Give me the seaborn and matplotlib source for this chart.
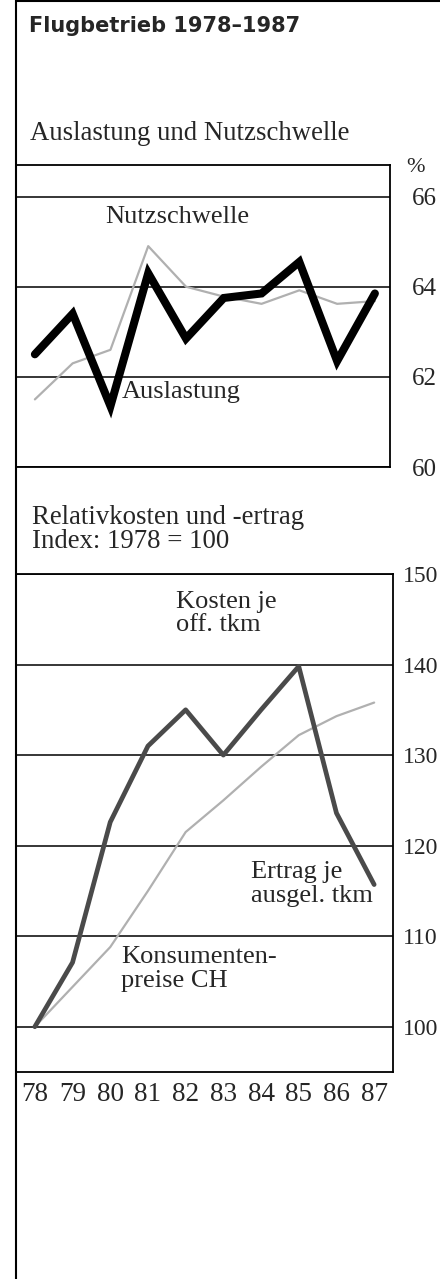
import matplotlib
matplotlib.use("Agg")
import matplotlib.pyplot as plt
import seaborn as sns
import pandas as pd
from matplotlib.lines import Line2D

# data
years = [78, 79, 80, 81, 82, 83, 84, 85, 86, 87]
auslastung = [62.5, 63.4, 61.35, 64.3, 62.85, 63.75, 63.85, 64.55, 62.35, 63.85]
nutzschwelle = [61.5, 62.3, 62.6, 64.9, 64.0, 63.78, 63.62, 63.92, 63.62, 63.68]
kosten = [100, 107.1, 122.6, 131.0, 135.0, 130.0, 135.0, 139.8, 123.6, 115.7]
konsumentenpreise = [100, 104.4, 108.8, 115.0, 121.5, 125.0, 128.7, 132.2, 134.3, 135.8]

top_ticks = [60, 62, 64, 66]
bottom_ticks = [100, 110, 120, 130, 140, 150]

df_top = pd.DataFrame({"Jahr": years, "Auslastung": auslastung, "Nutzschwelle": nutzschwelle})
df_bot = pd.DataFrame({"Jahr": years, "Kosten": kosten, "Konsumentenpreise": konsumentenpreise})

sns.set_style("white")
plt.rcParams["font.family"] = ["Liberation Serif", "DejaVu Serif"]

W, H = 440, 1279
fig = plt.figure(figsize=(W / 100, H / 100), dpi=100)
fig.patch.set_facecolor("white")


def px(x, y):
    return x / W, 1 - y / H


def box(left, top, right, bottom):
    return [left / W, 1 - bottom / H, (right - left) / W, (bottom - top) / H]


# -------------------
# Auslastung und Nutzschwelle
# -------------------
ax1 = fig.add_axes(box(16, 165, 390, 467))
sns.lineplot(data=df_top, x="Jahr", y="Nutzschwelle", ax=ax1, color="#b0b0b0", lw=1.6)
sns.lineplot(data=df_top, x="Jahr", y="Auslastung", ax=ax1, color="black", lw=5.8,
             solid_joinstyle="miter")
ax1.set_xlim(77.5, 87.4)
ax1.set_ylim(60, 66.7)
ax1.set_yticks(top_ticks)
ax1.set_xticks([])
ax1.yaxis.tick_right()
ax1.tick_params(axis="y", length=0, pad=15.5, labelsize=18)
ax1.grid(axis="y", color="black", lw=1.1)
ax1.set_xlabel("")
ax1.set_ylabel("")
for s in ax1.spines.values():
    s.set_color("black")
    s.set_linewidth(1.3)

# -------------------
# Relativkosten und -ertrag
# -------------------
ax2 = fig.add_axes(box(16, 574, 393, 1072))
sns.lineplot(data=df_bot, x="Jahr", y="Konsumentenpreise", ax=ax2, color="#b0b0b0", lw=1.6)
sns.lineplot(data=df_bot, x="Jahr", y="Kosten", ax=ax2, color="#4a4a4a", lw=3.4)
ax2.set_xlim(77.5, 87.5)
ax2.set_ylim(95, 150)
ax2.set_yticks(bottom_ticks)
ax2.set_xticks(years)
ax2.set_xticklabels([str(y) for y in years])
ax2.yaxis.tick_right()
ax2.tick_params(axis="y", length=0, pad=7, labelsize=17)
ax2.tick_params(axis="x", length=0, pad=7, labelsize=19.5)
ax2.grid(axis="y", color="black", lw=1.1)
ax2.set_xlabel("")
ax2.set_ylabel("")
for s in ax2.spines.values():
    s.set_color("black")
    s.set_linewidth(1.3)

# frame lines
fig.add_artist(Line2D([16 / W, 16 / W], [0, 1], color="black", lw=1.5))
fig.add_artist(Line2D([16 / W, 1], [1 - 1 / H, 1 - 1 / H], color="black", lw=1.5))

# texts
fig.text(*px(29, 26), "Flugbetrieb 1978–1987", family="DejaVu Sans", weight="heavy",
         fontsize=15, va="center", ha="left")
fig.text(*px(30, 134), "Auslastung und Nutzschwelle", fontsize=19.3, va="center", ha="left")
fig.text(*px(406, 168), "%", fontsize=16, va="center", ha="left")
fig.text(*px(177, 217), "Nutzschwelle", fontsize=19, va="center", ha="center")
fig.text(*px(122, 392), "Auslastung", fontsize=19, va="center", ha="left")

fig.text(*px(32, 518), "Relativkosten und -ertrag", fontsize=19.3, va="center", ha="left")
fig.text(*px(32, 541), "Index: 1978 = 100", fontsize=19.3, va="center", ha="left")
fig.text(*px(176, 602), "Kosten je", fontsize=19, va="center", ha="left")
fig.text(*px(176, 625), "off. tkm", fontsize=19, va="center", ha="left")
fig.text(*px(251, 872), "Ertrag je", fontsize=19, va="center", ha="left")
fig.text(*px(251, 896), "ausgel. tkm", fontsize=19, va="center", ha="left")
fig.text(*px(121, 957), "Konsumenten-", fontsize=19, va="center", ha="left")
fig.text(*px(121, 981), "preise CH", fontsize=19, va="center", ha="left")

fig.savefig("out.png", dpi=100)
